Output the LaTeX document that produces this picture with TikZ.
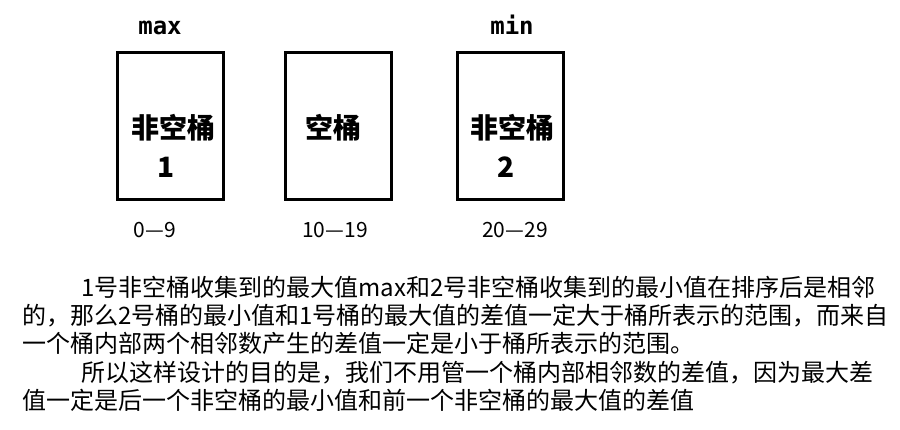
\documentclass[tikz,border=0pt]{standalone}
\usepackage{fontspec}
\usepackage{tikz}
\usetikzlibrary{positioning}
\newfontfamily\cjk{Noto Sans CJK SC}
\newfontfamily\mono{DejaVu Sans Mono}

\begin{document}
\begin{tikzpicture}[x=1pt,y=-1pt,
  bucket/.style={draw,line width=2.6pt,minimum width=106pt,minimum height=147pt,inner sep=0pt},
  name label/.style={font=\cjk\bfseries\fontsize{28}{34}\selectfont,inner sep=0pt},
  end label/.style={font=\mono\bfseries\fontsize{24}{24}\selectfont,inner sep=0pt,anchor=base},
  range label/.style={font=\cjk\fontsize{21}{21}\selectfont,inner sep=0pt},
  note/.style={font=\cjk\fontsize{24}{28.2}\selectfont,align=left,inner sep=0pt,anchor=north west}]

  \useasboundingbox (0,0) rectangle (900,430);

  % buckets
  \node[bucket] (b1) at (170.5,126) {};
  \node[bucket] (b2) at (338.5,126) {};
  \node[bucket] (b3) at (510.5,126) {};

  \node[name label] (n1) at (173,128) {非空桶};
  \node[name label] (d1) at (166,167) {1};
  \node[name label] (n2) at (333,128) {空桶};
  \node[name label] (n3) at (512,128) {非空桶};
  \node[name label] (d3) at (506,167) {2};

  \node[end label] (max) at (160,35) {max};
  \node[end label] (min) at (512,35) {min};

  \node[range label] (r1) at (155,230) {0—9};
  \node[range label] (r2) at (335,230) {10—19};
  \node[range label] (r3) at (515,230) {20—29};

  % explanation
  \node[note] (text) at (22,276) {\hspace*{59pt}1号非空桶收集到的最大值max和2号非空桶收集到的最小值在排序后是相邻\\
    的，那么2号桶的最小值和1号桶的最大值的差值一定大于桶所表示的范围，而来自\\
    一个桶内部两个相邻数产生的差值一定是小于桶所表示的范围。\\
    \hspace*{59pt}所以这样设计的目的是，我们不用管一个桶内部相邻数的差值，因为最大差\\
    值一定是后一个非空桶的最小值和前一个非空桶的最大值的差值};
\end{tikzpicture}
\end{document}
